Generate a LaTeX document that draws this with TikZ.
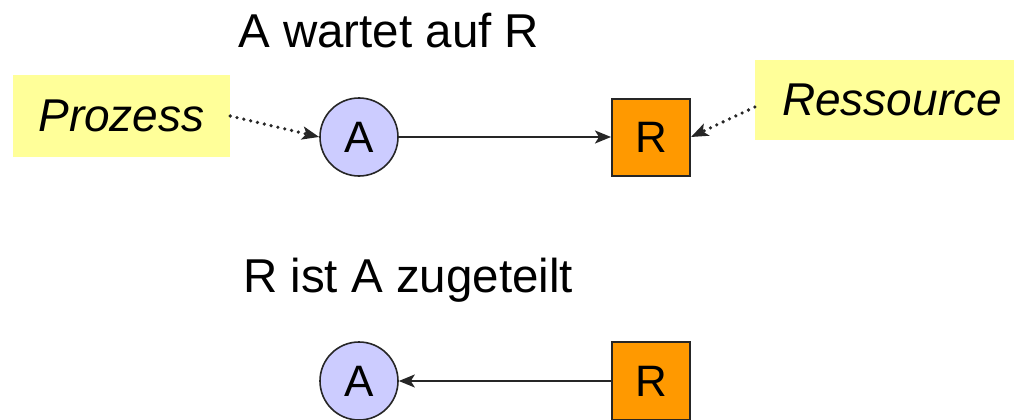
\documentclass[tikz,border=0pt]{standalone}
\usepackage{fontspec}
\setmainfont{Liberation Sans}
\usetikzlibrary{arrows.meta}
\definecolor{procfill}{HTML}{CCCCFF}
\definecolor{resfill}{HTML}{FF9900}
\definecolor{notefill}{HTML}{FFFF99}
\tikzset{
  proc/.style={circle, draw=black!85, line width=1.6pt, fill=procfill, minimum size=78pt, inner sep=0pt, font=\fontsize{44}{46}\selectfont},
  res/.style={rectangle, draw=black!85, line width=2pt, fill=resfill, minimum width=78pt, minimum height=77pt, inner sep=0pt, font=\fontsize{44}{46}\selectfont},
  note/.style={rectangle, fill=notefill, inner sep=0pt, font=\fontsize{46}{48}\selectfont\itshape},
  title/.style={anchor=base west, inner sep=0pt, font=\fontsize{47.5}{49}\selectfont},
  edge/.style={line width=1.8pt, draw=black!85, -{Stealth[length=16pt,width=13pt,inset=4pt]}},
  hint/.style={line width=3.6pt, line cap=round, dash pattern=on 0pt off 7pt, draw=black!85, -{Stealth[length=17pt,width=13pt,inset=4pt,line cap=butt]}}
}
\begin{document}
\begin{tikzpicture}[x=1pt,y=-1pt]
\useasboundingbox (0,0) rectangle (1014,420);
\clip (0,0) rectangle (1014,420);
\fill[white] (0,0) rectangle (1014,420);
% titles
\node[title] (t1) at (238,48) {A wartet auf R};
\node[title] (t2) at (243,292) {R ist A zugeteilt};
% top row
\node[proc] (A1) at (359,137) {A};
\node[res] (R1) at (651,137) {R};
\node[note, minimum width=217pt, minimum height=82pt] (P) at (121.5,116) {Prozess};
\node[note, minimum width=274pt, minimum height=80pt] (Rs) at (892,100) {Ressource};
\draw[edge] (A1) -- (R1);
\draw[hint] (P.east) -- (A1.west);
\draw[hint] ([yshift=-7pt]Rs.west) -- (R1.east);
% bottom row
\node[proc] (A2) at (359,381) {A};
\node[res, minimum height=78pt] (R2) at (651,381) {R};
\draw[edge] (R2) -- (A2);
\end{tikzpicture}
\end{document}
